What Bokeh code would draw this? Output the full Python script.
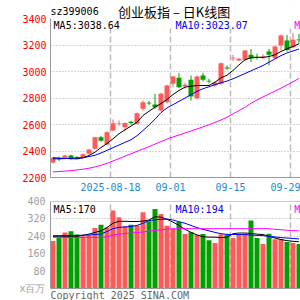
from bokeh.plotting import figure
from bokeh.layouts import column
from bokeh.models import Range1d, FixedTicker, Label, BoxAnnotation, Span
from bokeh.embed import file_html
from bokeh.resources import INLINE

dates = ["2025-08-04", "2025-08-05", "2025-08-06", "2025-08-07", "2025-08-08",
         "2025-08-11", "2025-08-12", "2025-08-13", "2025-08-14", "2025-08-15",
         "2025-08-18", "2025-08-19", "2025-08-20", "2025-08-21", "2025-08-22",
         "2025-08-25", "2025-08-26", "2025-08-27", "2025-08-28", "2025-08-29",
         "2025-09-01", "2025-09-02", "2025-09-03", "2025-09-04", "2025-09-05",
         "2025-09-08", "2025-09-09", "2025-09-10", "2025-09-11", "2025-09-12",
         "2025-09-15", "2025-09-16", "2025-09-17", "2025-09-18", "2025-09-19",
         "2025-09-22", "2025-09-23", "2025-09-24", "2025-09-25", "2025-09-26",
         "2025-09-29", "2025-09-30"]

opens = [2313, 2345, 2349, 2366, 2352, 2349, 2380, 2417, 2504, 2450,
         2555, 2603, 2580, 2620, 2605, 2718, 2765, 2751, 2706, 2768,
         2907, 2952, 2889, 2937, 2799, 2970, 2930, 2894, 2907, 3030,
         3098, 3083, 3088, 3126, 3110, 3110, 3151, 3100, 3196, 3234,
         3183, 3242]
highs = [2355, 2358, 2370, 2372, 2362, 2380, 2415, 2508, 2515, 2548,
         2638, 2630, 2615, 2628, 2690, 2782, 2778, 2832, 2840, 2900,
         2968, 2990, 2915, 2970, 2968, 2990, 2945, 2925, 3068, 3045,
         3125, 3100, 3162, 3170, 3135, 3130, 3171, 3195, 3280, 3275,
         3290, 3284]
lows = [2303, 2325, 2345, 2335, 2338, 2345, 2375, 2412, 2470, 2445,
        2550, 2590, 2549, 2598, 2600, 2705, 2745, 2718, 2700, 2760,
        2882, 2875, 2870, 2781, 2790, 2925, 2910, 2885, 2900, 3012,
        3080, 3078, 3080, 3070, 3090, 3095, 3045, 3095, 3160, 3150,
        3175, 3209]
closes = [2349, 2338, 2366, 2342, 2347, 2375, 2411, 2504, 2478, 2542,
          2610, 2608, 2612, 2612, 2685, 2768, 2758, 2731, 2832, 2894,
          2962, 2882, 2900, 2811, 2962, 2937, 2925, 2917, 3063, 3022,
          3103, 3096, 3158, 3096, 3105, 3116, 3126, 3189, 3272, 3163,
          3239, 3236]

ma5 = [2349, 2346, 2344, 2342, 2341, 2349, 2366, 2391, 2426, 2456,
       2492, 2530, 2560, 2588, 2617, 2668, 2700, 2731, 2758, 2789,
       2826, 2857, 2882, 2889, 2894, 2894, 2894, 2919, 2952, 2972,
       3008, 3050, 3088, 3106, 3108, 3106, 3113, 3126, 3151, 3171,
       3189, 3209]
ma10 = [2341, 2341, 2343, 2345, 2347, 2349, 2358, 2368, 2385, 2405,
        2425, 2445, 2465, 2485, 2515, 2555, 2595, 2640, 2690, 2725,
        2750, 2775, 2800, 2825, 2850, 2870, 2885, 2900, 2915, 2928,
        2945, 2965, 2985, 3005, 3025, 3045, 3070, 3095, 3120, 3140,
        3155, 3170]
ma20 = [2242, 2245, 2248, 2252, 2257, 2263, 2270, 2280, 2292, 2307,
        2325, 2343, 2361, 2379, 2397, 2415, 2433, 2452, 2471, 2490,
        2506, 2521, 2536, 2551, 2566, 2582, 2598, 2616, 2634, 2655,
        2680, 2705, 2730, 2760, 2785, 2808, 2830, 2852, 2875, 2898,
        2922, 2948]

volumes = [218, 232, 258, 263, 248, 240, 245, 278, 293, 281,
           359, 328, 286, 293, 290, 351, 309, 365, 342, 289,
           276, 306, 251, 259, 247, 251, 222, 209, 250, 248,
           232, 247, 251, 313, 232, 205, 252, 227, 228, 214,
           209, 205]
vma5 = [240, 240, 240, 240, 240, 245, 250, 258, 265, 280,
        300, 309, 309, 308, 308, 310, 315, 330, 328, 318,
        305, 290, 272, 258, 246, 238, 236, 236, 234, 236,
        252, 255, 255, 253, 250, 248, 240, 232, 225, 220,
        217, 215]
vma10 = [243, 243, 243, 244, 244, 245, 246, 248, 251, 262,
         275, 281, 283, 285, 290, 300, 312, 316, 318, 319,
         315, 307, 300, 290, 280, 272, 265, 258, 252, 249,
         248, 248, 248, 246, 244, 243, 240, 237, 234, 232,
         230, 228]
vma20 = [235, 235, 235, 235, 235, 235, 235, 235, 235, 238,
         245, 250, 253, 255, 257, 260, 264, 267, 270, 273,
         274, 275, 275, 275, 275, 275, 275, 275, 275, 275,
         275, 275, 275, 275, 275, 275, 275, 272, 270, 268,
         266, 265]

price_ticks = [2200, 2400, 2600, 2800, 3000, 3200, 3400]
vol_ticks = [0, 80, 160, 240, 320, 400]
vol_unit_label = "x百万"
date_ticks = ["2025-08-18", "2025-09-01", "2025-09-15", "2025-09-29"]
date_tick_labels = ["2025-08-18", "09-01", "09-15", "09-29"]

title_code = "sz399006"
title_text = "创业板指  –  日K线图"
price_legend = ["MA5:3038.64", "MA10:3023.07", "M"]
vol_legend = ["MA5:170", "MA10:194", "M"]
copyright_text = "Copyright 2025 SINA.COM"

RED = "#ff5a5a"
GREEN = "#00a000"
MONO = "DejaVu Sans Mono"
PX_PRICE = 1200 / 159   # price units per pixel
PX_VOL = 400 / 87       # volume units per pixel

idx = list(range(len(dates)))
colors = [RED if c >= o else GREEN for o, c in zip(opens, closes)]
body_top = [max(o, c) for o, c in zip(opens, closes)]
body_bot = [min(o, c) for o, c in zip(opens, closes)]
off = 0.4167
tick_pos = [dates.index(d) - off for d in date_ticks]

xr = Range1d(-off, 41.25)
p_top = price_ticks[-1] + 18 * PX_PRICE

p = figure(width=300, height=195, x_range=xr, y_range=Range1d(price_ticks[0], p_top),
           output_backend="svg", toolbar_location=None,
           min_border_left=50, min_border_right=0, min_border_top=0, min_border_bottom=18)
p.outline_line_color = None
p.yaxis.ticker = FixedTicker(ticks=price_ticks)
p.yaxis.bounds = (price_ticks[0], price_ticks[-1])
p.yaxis.major_label_text_color = "#ff0000"
p.yaxis.major_label_text_font = MONO
p.yaxis.major_label_text_font_size = "10px"
p.yaxis.major_tick_line_color = None
p.yaxis.minor_tick_line_color = None
p.yaxis.major_tick_out = 0
p.yaxis.major_label_standoff = 4
p.yaxis.axis_line_color = "#999999"
p.xaxis.ticker = FixedTicker(ticks=tick_pos)
p.xaxis.major_label_overrides = {t: l for t, l in zip(tick_pos, date_tick_labels)}
p.xaxis.major_label_text_color = "#1a8ad4"
p.xaxis.major_label_text_font = MONO
p.xaxis.major_label_text_font_size = "10px"
p.xaxis.major_tick_line_color = None
p.xaxis.minor_tick_line_color = None
p.xaxis.major_tick_out = 0
p.xaxis.major_label_standoff = 5
p.xaxis.axis_line_color = "#999999"
p.ygrid.grid_line_color = "#aaaaaa"
p.ygrid.grid_line_dash = "1 2"
p.xgrid.grid_line_color = "#bbbbbb"
p.xgrid.grid_line_dash = "6 3"
p.xgrid.grid_line_width = 1.5

band = BoxAnnotation(bottom=price_ticks[-1] - 10 * PX_PRICE, top=p_top, fill_color="white",
                     fill_alpha=1, line_color=None, level="underlay")
p.add_layout(band)

p.segment(x0=idx, y0=lows, x1=idx, y1=highs, color=colors, line_width=1)
p.vbar(x=idx, width=0.8333, top=body_top, bottom=body_bot, fill_color=colors, line_color=None)
p.line(idx, ma5, color="black", line_width=1)
p.line(idx, ma10, color="#0000ee", line_width=1)
p.line(idx, ma20, color="#ff00ff", line_width=1)

leg_y = price_ticks[-1] - 1 * PX_PRICE
for x, txt, col in zip([0.1, 20.42, 40.2], price_legend, ["black", "#0000ee", "#ff00ff"]):
    p.add_layout(Label(x=x, y=leg_y, text=txt, text_color=col, text_font=MONO,
                       text_font_size="10px", text_baseline="top"))

title_y = price_ticks[-1] + 7 * PX_PRICE
p.add_layout(Label(x=-off, y=title_y, text=title_code, text_color="black", text_font=MONO,
                   text_font_size="10px", text_baseline="middle"))
p.add_layout(Label(x=20.67, y=title_y, text=title_text, text_color="black",
                   text_font="Noto Sans CJK SC", text_font_size="13px",
                   text_baseline="middle", text_align="center"))

v_bottom = -12 * PX_VOL
p2 = figure(width=300, height=105, x_range=xr, y_range=Range1d(v_bottom, vol_ticks[-1]),
            output_backend="svg", toolbar_location=None,
            min_border_left=50, min_border_right=0, min_border_top=6, min_border_bottom=0)
p2.outline_line_color = None
p2.xaxis.visible = False
p2.yaxis.ticker = FixedTicker(ticks=vol_ticks)
p2.yaxis.bounds = (vol_ticks[0], vol_ticks[-1])
p2.yaxis.major_label_overrides = {0: vol_unit_label}
p2.yaxis.major_label_text_color = "#a0a0a0"
p2.yaxis.major_label_text_font = MONO
p2.yaxis.major_label_text_font_size = "10px"
p2.yaxis.major_tick_line_color = None
p2.yaxis.minor_tick_line_color = None
p2.yaxis.major_tick_out = 0
p2.yaxis.major_label_standoff = 5
p2.yaxis.axis_line_color = "#999999"
p2.ygrid.ticker = FixedTicker(ticks=vol_ticks)
p2.xgrid.ticker = FixedTicker(ticks=tick_pos)
p2.ygrid.grid_line_color = "#aaaaaa"
p2.ygrid.grid_line_dash = "1 2"
p2.xgrid.grid_line_color = "#bbbbbb"
p2.xgrid.grid_line_dash = "6 3"
p2.xgrid.grid_line_width = 1.5

vband = BoxAnnotation(bottom=v_bottom, top=0, fill_color="white", fill_alpha=1,
                      line_color=None, level="underlay")
p2.add_layout(vband)
p2.add_layout(Span(location=vol_ticks[-1], dimension="width", line_color="#999999", line_width=1))
p2.add_layout(Span(location=0, dimension="width", line_color="#999999", line_width=1))

p2.vbar(x=idx, width=0.8333, top=volumes, bottom=0, fill_color=colors, line_color=None)
p2.line(idx, vma5, color="black", line_width=1)
p2.line(idx, vma10, color="#0000ee", line_width=1)
p2.line(idx, vma20, color="#ff00ff", line_width=1)

for x, txt, col in zip([0.1, 20.42, 40.2], vol_legend, ["black", "#0000ee", "#ff00ff"]):
    p2.add_layout(Label(x=x, y=vol_ticks[-1] - 2 * PX_VOL, text=txt, text_color=col,
                        text_font=MONO, text_font_size="10px", text_baseline="top",
                        background_fill_color="white"))

p2.add_layout(Label(x=-off, y=-1 * PX_VOL, text=copyright_text, text_color="#666666",
                    text_font=MONO, text_font_size="10px", text_baseline="top"))

layout = column(p, p2, spacing=0)
open("out.html", "w").write(file_html(layout, INLINE))
